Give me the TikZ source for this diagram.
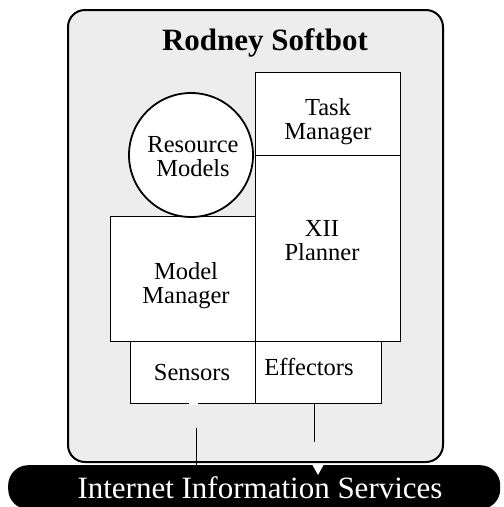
\documentclass[tikz,border=0pt]{standalone}
\usepackage{fontspec}
\setmainfont{Liberation Serif}
\begin{document}
\begin{tikzpicture}[x=1pt,y=-1pt,
  box/.style={draw, fill=white, line width=1.3pt, inner sep=0pt, anchor=north west},
  lbl/.style={font=\fontsize{24.5}{24}\selectfont, align=center, inner sep=0pt},
  link/.style={line width=1pt},
]
\useasboundingbox (0,0) rectangle (504,507);

% softbot frame
\draw[line width=2pt, rounded corners=17pt, fill=black!7] (68,10) rectangle (443,462);
\node[font=\bfseries\fontsize{31}{31}\selectfont, inner sep=0pt, anchor=base] (title) at (265,50) {Rodney Softbot};

% lower row: sensors and effectors
\node[box, minimum width=125pt, minimum height=62pt] (se) at (130,341) {};
\node[box, minimum width=126pt, minimum height=62pt] (ef) at (255,341) {};
% upper blocks
\node[box, minimum width=145pt, minimum height=125pt] (mm) at (110,216) {};
\node[box, minimum width=145pt, minimum height=186pt] (xp) at (255,155) {};
\node[box, minimum width=145pt, minimum height=83pt] (tm) at (255,72) {};
\node[draw, fill=white, circle, line width=1.8pt, minimum size=124pt, inner sep=0pt] (rm) at (191,155) {};

% labels
\node[lbl] (tmL) at (328,122) {Task\\Manager};
\node[lbl] (xpL) at (322,241) {XII\\Planner};
\node[lbl] (rmL) at (193,157) {Resource\\Models};
\node[lbl] (mmL) at (186,286) {Model\\Manager};
\node[lbl, anchor=base] (seL) at (192,380) {Sensors};
\node[lbl, anchor=base] (efL) at (309,375) {Effectors};

% internet bar
\node[fill=black, rounded corners=20pt, minimum width=492pt, minimum height=44pt, inner sep=0pt, anchor=north west] (net) at (8,465) {};
\node[text=white, font=\fontsize{31}{31}\selectfont, inner sep=0pt, anchor=base] (netL) at (260,498) {Internet Information Services};

% connectors between the agent and the internet
\coordinate (sIn) at (196.5,428);
\coordinate (eOut) at (314,442);
\draw[white, line width=9pt] (193,401.5) -- (193,404.5);
\draw[link] (net.north -| sIn) -- (sIn);
\draw[link] (ef.south -| eOut) -- (eOut);
\fill[white] (312,464) -- (324,464) -- (318,475) -- cycle;
\end{tikzpicture}
\end{document}
